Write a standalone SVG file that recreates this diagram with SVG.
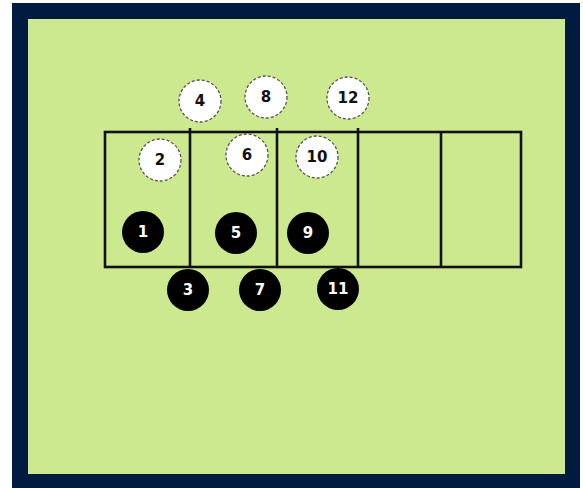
<svg xmlns="http://www.w3.org/2000/svg" width="583" height="488" viewBox="0 0 583 488">
<style>
.grid{fill:none;stroke:#111;stroke-width:2.6}
.w circle{fill:#fff;stroke:#555;stroke-width:1.3;stroke-dasharray:3 2}
.b circle{fill:#000}
.w text,.b text{font-family:"DejaVu Sans",Verdana,sans-serif;font-weight:bold;font-size:15px;text-anchor:middle;dominant-baseline:central}
.w text{fill:#111}
.b text{fill:#fff}
</style>
<rect x="0" y="0" width="583" height="488" fill="#fff"/>
<rect x="12" y="3" width="568" height="485" fill="#001a40"/>
<rect x="28" y="19" width="537" height="455" fill="#cde98f"/>
<g id="grid" class="grid">
<rect x="105" y="132" width="416" height="135"/>
<line x1="190" y1="128" x2="190" y2="267"/>
<line x1="277" y1="128" x2="277" y2="267"/>
<line x1="358" y1="128" x2="358" y2="267"/>
<line x1="441" y1="132" x2="441" y2="267"/>
</g>
<g id="connectors"></g>
<g id="n1" class="b"><circle cx="143" cy="232" r="21"/><text x="143" y="232">1</text></g>
<g id="n2" class="w"><circle cx="160" cy="160" r="21"/><text x="160" y="160">2</text></g>
<g id="n3" class="b"><circle cx="188" cy="290" r="21"/><text x="188" y="290">3</text></g>
<g id="n4" class="w"><circle cx="200" cy="101" r="21"/><text x="200" y="101">4</text></g>
<g id="n5" class="b"><circle cx="236" cy="233" r="21"/><text x="236" y="233">5</text></g>
<g id="n6" class="w"><circle cx="247" cy="155" r="21"/><text x="247" y="155">6</text></g>
<g id="n7" class="b"><circle cx="260" cy="290" r="21"/><text x="260" y="290">7</text></g>
<g id="n8" class="w"><circle cx="266" cy="97" r="21"/><text x="266" y="97">8</text></g>
<g id="n9" class="b"><circle cx="308" cy="233" r="21"/><text x="308" y="233">9</text></g>
<g id="n10" class="w"><circle cx="317" cy="157" r="21"/><text x="317" y="157">10</text></g>
<g id="n11" class="b"><circle cx="338" cy="289" r="21"/><text x="338" y="289">11</text></g>
<g id="n12" class="w"><circle cx="348" cy="98" r="21"/><text x="348" y="98">12</text></g>
</svg>
